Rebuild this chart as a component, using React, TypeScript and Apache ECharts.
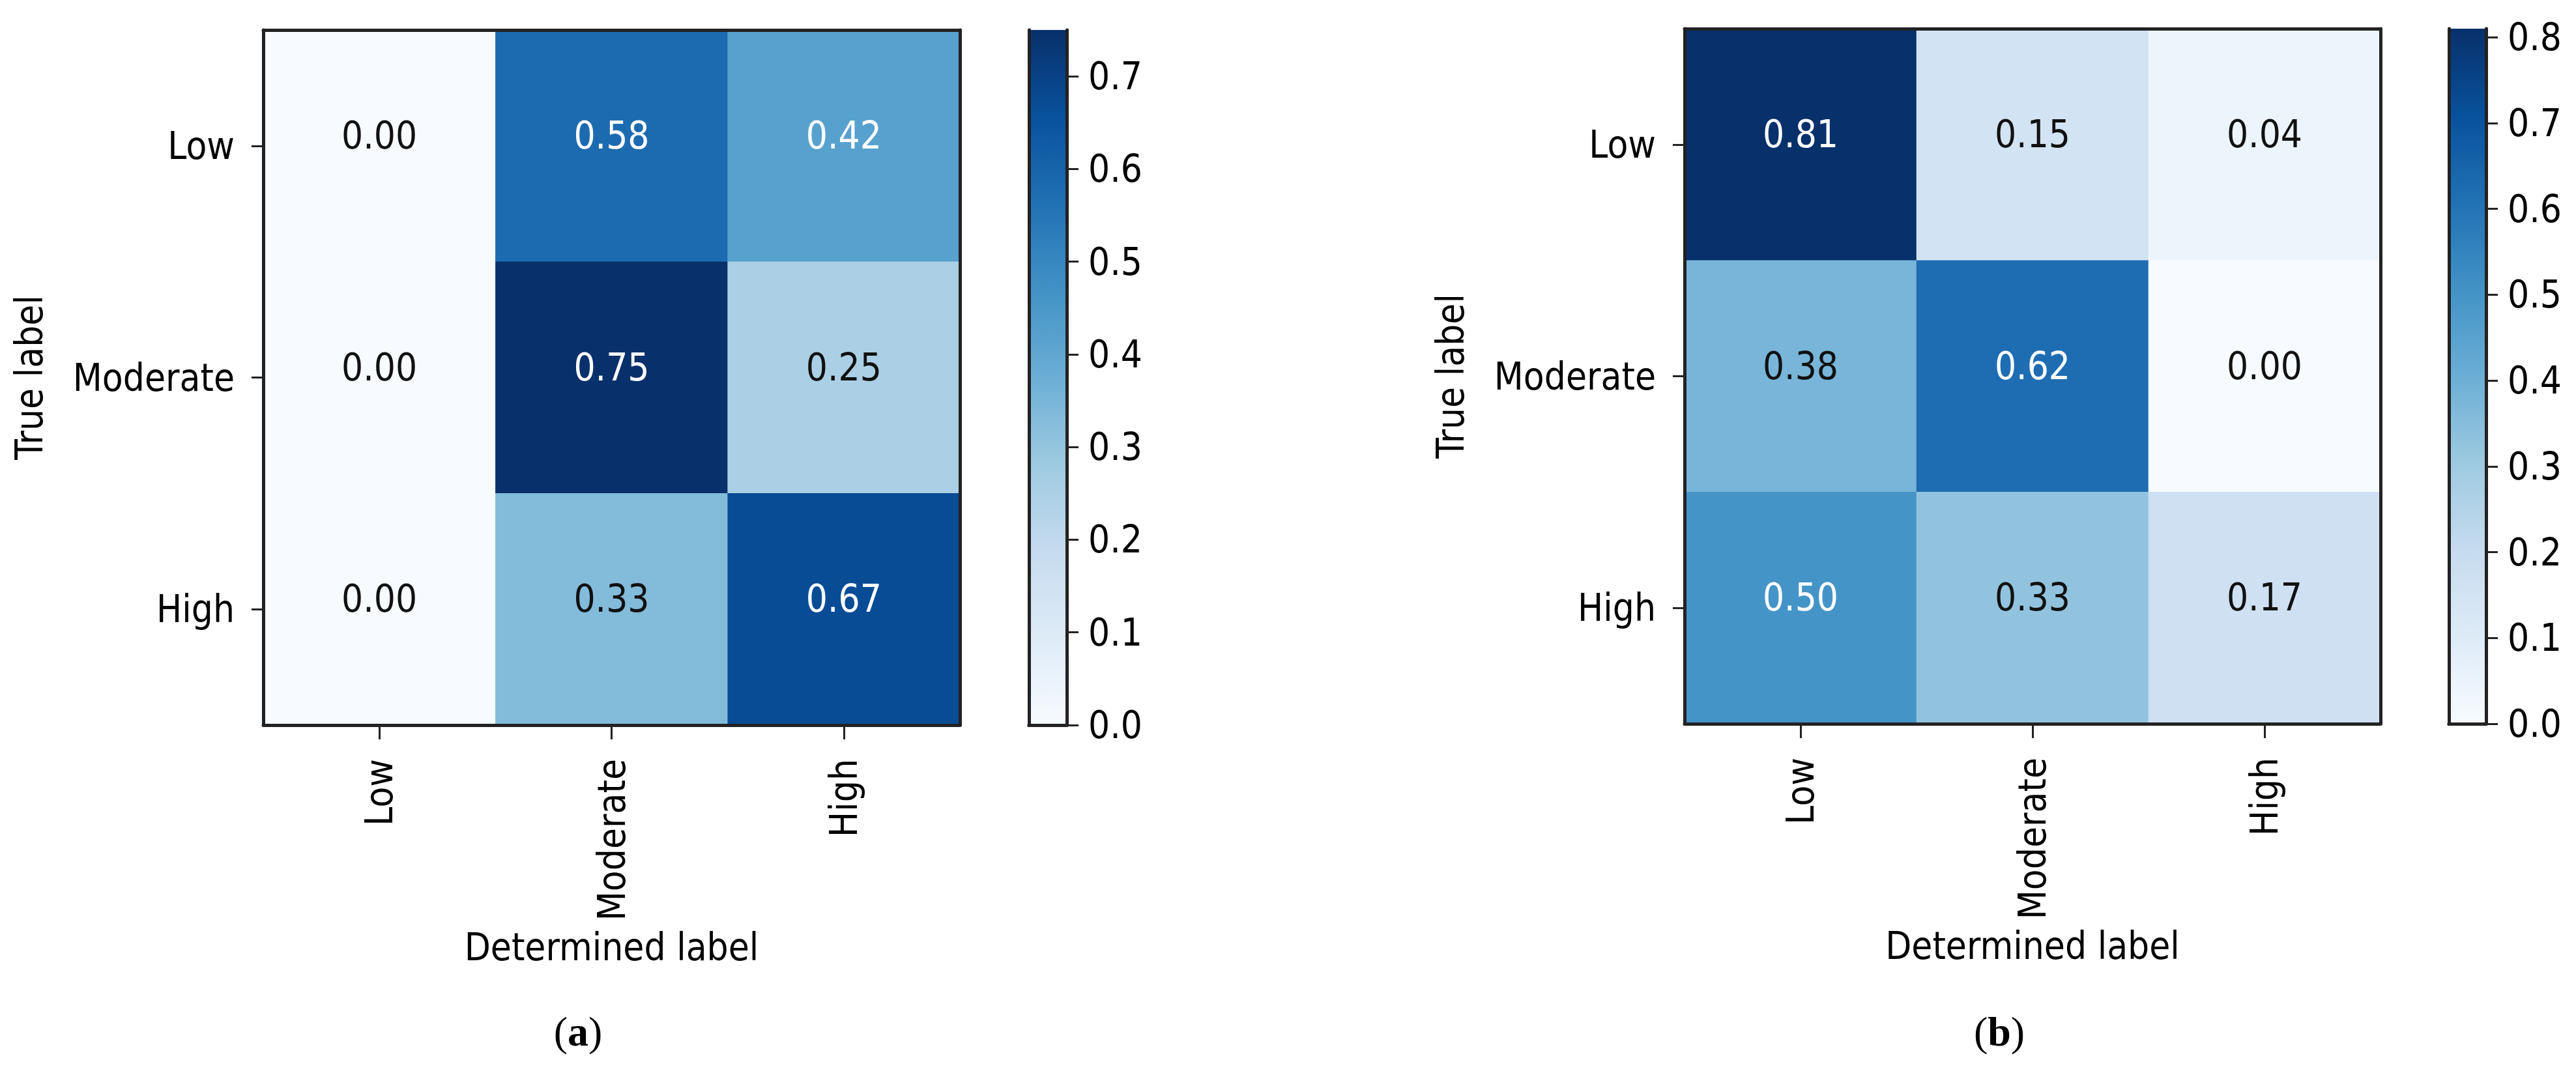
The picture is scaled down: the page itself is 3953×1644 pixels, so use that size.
import React, { useEffect, useRef } from "react";
import * as echarts from "echarts";

const categories = ["Low", "Moderate", "High"];
// rows = true label, columns = determined label
const matrixA = [
  [0.0, 0.58, 0.42],
  [0.0, 0.75, 0.25],
  [0.0, 0.33, 0.67],
];
const matrixB = [
  [0.81, 0.15, 0.04],
  [0.38, 0.62, 0.0],
  [0.5, 0.33, 0.17],
];
const maxA = 0.75;
const maxB = 0.81;
const ticksA = [0, 0.1, 0.2, 0.3, 0.4, 0.5, 0.6, 0.7];
const ticksB = [0, 0.1, 0.2, 0.3, 0.4, 0.5, 0.6, 0.7, 0.8];
const panelLabels = ["a", "b"];
const blues = ["#f7fbff", "#deebf7", "#c6dbef", "#9ecae1", "#6baed6", "#4292c6", "#2171b5", "#08519c", "#08306b"];

const FONT = "'DejaVu Sans Condensed', 'DejaVu Sans', sans-serif";
const FS = 58;
const LINE = "#222222";

function toData(m: number[][]) {
  const out: any[] = [];
  m.forEach((row, r) => row.forEach((v, c) => out.push([c, r, v])));
  return out;
}

export default function App() {
  const ref = useRef<HTMLDivElement>(null);
  useEffect(() => {
    document.body.style.margin = "0";
    if (!ref.current) return;
    const chart = echarts.init(ref.current, undefined, { renderer: "svg" });

    const grids = [
      { left: 404, top: 46, width: 1069, height: 1067 },
      { left: 1579, top: 46, width: 58, height: 1067 },
      { left: 2585, top: 44, width: 1068, height: 1067 },
      { left: 3758, top: 44, width: 57, height: 1067 },
    ];

    const frameLine = { show: true, lineStyle: { color: LINE, width: 5 } };

    const heatX = (gridIndex: number) => [
      {
        type: "category",
        gridIndex,
        data: categories,
        position: "bottom",
        z: 10,
        axisLine: frameLine,
        axisTick: { show: true, alignWithLabel: true, length: 22, lineStyle: { color: LINE, width: 3 } },
        axisLabel: { rotate: 90, margin: 52, fontSize: FS, fontFamily: FONT, color: "#000" },
        splitLine: { show: false },
        name: "Determined label",
        nameLocation: "middle",
        nameGap: 312,
        nameTextStyle: { fontSize: FS, fontFamily: FONT, color: "#000" },
      },
      {
        type: "category",
        gridIndex,
        data: categories,
        position: "top",
        z: 10,
        axisLine: frameLine,
        axisTick: { show: false },
        axisLabel: { show: false },
        splitLine: { show: false },
      },
    ];
    const heatY = (gridIndex: number) => [
      {
        type: "category",
        gridIndex,
        data: categories,
        inverse: true,
        position: "left",
        z: 10,
        axisLine: frameLine,
        axisTick: { show: true, alignWithLabel: true, length: 18, lineStyle: { color: LINE, width: 3 } },
        axisLabel: { margin: 44, fontSize: FS, fontFamily: FONT, color: "#000" },
        splitLine: { show: false },
        name: "True label",
        nameLocation: "middle",
        nameGap: 330,
        nameTextStyle: { fontSize: FS, fontFamily: FONT, color: "#000" },
      },
      {
        type: "category",
        gridIndex,
        data: categories,
        inverse: true,
        position: "right",
        z: 10,
        axisLine: frameLine,
        axisTick: { show: false },
        axisLabel: { show: false },
        splitLine: { show: false },
      },
    ];
    const cbX = (gridIndex: number) => [
      {
        type: "category",
        gridIndex,
        data: ["cb"],
        position: "bottom",
        z: 10,
        axisLine: frameLine,
        axisTick: { show: false },
        axisLabel: { show: false },
      },
      {
        type: "category",
        gridIndex,
        data: ["cb"],
        position: "top",
        z: 10,
        axisLine: frameLine,
        axisTick: { show: false },
        axisLabel: { show: false },
      },
    ];
    const cbY = (gridIndex: number, max: number, ticks: number[]) => [
      {
        type: "value",
        gridIndex,
        min: 0,
        max,
        position: "left",
        z: 10,
        axisLine: frameLine,
        axisTick: { show: false },
        axisLabel: { show: false },
        splitLine: { show: false },
      },
      {
        type: "value",
        gridIndex,
        min: 0,
        max,
        position: "right",
        z: 10,
        axisLine: frameLine,
        axisTick: { show: true, length: 18, customValues: ticks, lineStyle: { color: LINE, width: 3 } },
        axisLabel: {
          show: true,
          margin: 33,
          customValues: ticks,
          fontSize: FS,
          fontFamily: FONT,
          color: "#000",
          formatter: (v: number) => v.toFixed(1),
        },
        splitLine: { show: false },
      },
    ];

    const gradient = () =>
      new echarts.graphic.LinearGradient(
        0,
        1,
        0,
        0,
        blues.map((c, i) => ({ offset: i / (blues.length - 1), color: c }))
      );

    const heatSeries = (m: number[][], max: number, xi: number, yi: number) => ({
      type: "heatmap",
      xAxisIndex: xi,
      yAxisIndex: yi,
      data: toData(m),
      itemStyle: { borderWidth: 0 },
      emphasis: { disabled: true },
      label: {
        show: true,
        offset: [0, -16],
        formatter: (p: any) => {
          const v = p.value[2] as number;
          return (v > max / 2 ? "{w|" : "{k|") + v.toFixed(2) + "}";
        },
        rich: {
          w: { color: "#ffffff", fontSize: FS, fontFamily: FONT },
          k: { color: "#111111", fontSize: FS, fontFamily: FONT },
        },
      },
    });

    const barSeries = (max: number, xi: number, yi: number) => ({
      type: "bar",
      xAxisIndex: xi,
      yAxisIndex: yi,
      data: [max],
      barWidth: "100%",
      itemStyle: { color: gradient() },
      emphasis: { disabled: true },
      silent: true,
    });

    const panelText = (x: number, letter: string) => ({
      type: "text",
      x,
      y: 1583,
      style: {
        text: "({b|" + letter + "})",
        fontSize: 64,
        fontFamily: "'Liberation Serif', serif",
        fill: "#000",
        textAlign: "center",
        textVerticalAlign: "middle",
        rich: {
          b: { fontSize: 64, fontFamily: "'Liberation Serif', serif", fontWeight: "bold", fill: "#000" },
        },
      },
    });

    chart.setOption({
      animation: false,
      backgroundColor: "#ffffff",
      grid: grids,
      xAxis: [...heatX(0), ...cbX(1), ...heatX(2), ...cbX(3)],
      yAxis: [...heatY(0), ...cbY(1, maxA, ticksA), ...heatY(2), ...cbY(3, maxB, ticksB)],
      visualMap: [
        { type: "continuous", show: false, seriesIndex: 0, min: 0, max: maxA, inRange: { color: blues } },
        { type: "continuous", show: false, seriesIndex: 2, min: 0, max: maxB, inRange: { color: blues } },
      ],
      series: [
        heatSeries(matrixA, maxA, 0, 0),
        barSeries(maxA, 2, 3),
        heatSeries(matrixB, maxB, 4, 4),
        barSeries(maxB, 6, 7),
      ],
      graphic: [panelText(887, panelLabels[0]), panelText(3068, panelLabels[1])],
    });

    return () => chart.dispose();
  }, []);
  return <div ref={ref} style={{ width: 3953, height: 1644 }} />;
}
